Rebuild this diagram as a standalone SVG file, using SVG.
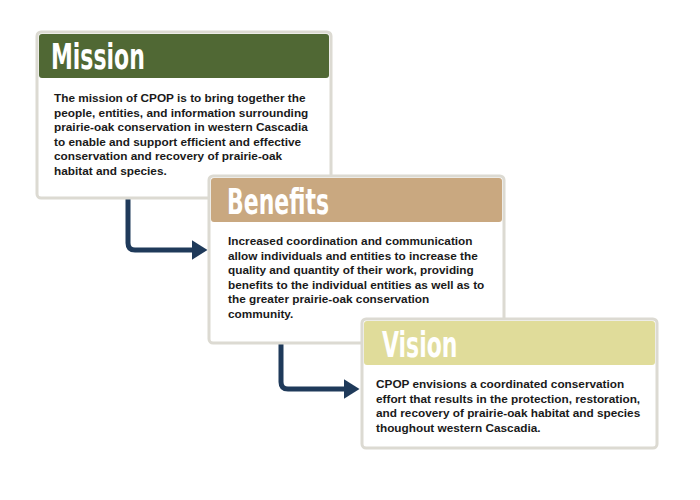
<svg xmlns="http://www.w3.org/2000/svg" width="700" height="500" viewBox="0 0 700 500">
<style>
.frame{fill:#fff;stroke:#dcdad2;stroke-width:3}
.title{font-family:"Liberation Sans Narrow","DejaVu Sans Condensed",sans-serif;font-weight:bold;font-size:33px;fill:#fff}
.body{font-family:"Liberation Sans",Arial,sans-serif;font-weight:bold;font-size:11.8px;fill:#1a1a1a}
.conn{fill:none;stroke:#1f3a5a;stroke-width:5;stroke-linejoin:round}
</style>
<defs>
<marker id="ah" markerWidth="4" markerHeight="4" refX="1.5" refY="2" orient="auto" markerUnits="strokeWidth">
<path d="M0,0 L3.2,2 L0,4 z" fill="#1f3a5a"/>
</marker>
</defs>
<rect width="700" height="500" fill="#fff"/>
<g id="connectors">
<path class="conn" d="M128,198 V243 Q128,250 135,250 H199" marker-end="url(#ah)"/>
<path class="conn" d="M281,343 V382 Q281,389 288,389 H351" marker-end="url(#ah)"/>
</g>
<g id="mission">
<rect class="frame" x="37" y="32" width="294" height="166" rx="4"/>
<rect x="39" y="34" width="290" height="44" rx="3" fill="#506834"/>
<text class="title" x="51" y="69" transform="translate(51 69) scale(0.74 1.1) translate(-51 -69)">Mission</text>
<text class="body"><tspan x="54" y="102">The mission of CPOP is to bring together the</tspan><tspan x="54" y="116.5">people, entities, and information surrounding</tspan><tspan x="54" y="131">prairie-oak conservation in western Cascadia</tspan><tspan x="54" y="145.5">to enable and support efficient and effective</tspan><tspan x="54" y="160">conservation and recovery of prairie-oak</tspan><tspan x="54" y="174.5">habitat and species.</tspan></text>
</g>
<g id="benefits">
<rect class="frame" x="209" y="176" width="295" height="167" rx="4"/>
<rect x="211" y="178" width="291" height="44" rx="3" fill="#c9a880"/>
<text class="title" x="227" y="214" transform="translate(227 214) scale(0.74 1.1) translate(-227 -214)">Benefits</text>
<text class="body"><tspan x="228" y="245">Increased coordination and communication</tspan><tspan x="228" y="259.5">allow individuals and entities to increase the</tspan><tspan x="228" y="274">quality and quantity of their work, providing</tspan><tspan x="228" y="288.5">benefits to the individual entities as well as to</tspan><tspan x="228" y="303">the greater prairie-oak conservation</tspan><tspan x="228" y="317.5">community.</tspan></text>
</g>
<g id="vision">
<rect class="frame" x="362" y="319" width="295" height="129" rx="4"/>
<rect x="364" y="321" width="291" height="44" rx="3" fill="#e0dc9a"/>
<text class="title" x="382" y="357" transform="translate(382 357) scale(0.74 1.1) translate(-382 -357)">Vision</text>
<text class="body"><tspan x="376" y="388">CPOP envisions a coordinated conservation</tspan><tspan x="376" y="402.5">effort that results in the protection, restoration,</tspan><tspan x="376" y="417">and recovery of prairie-oak habitat and species</tspan><tspan x="376" y="431.5">thoughout western Cascadia.</tspan></text>
</g>
</svg>
